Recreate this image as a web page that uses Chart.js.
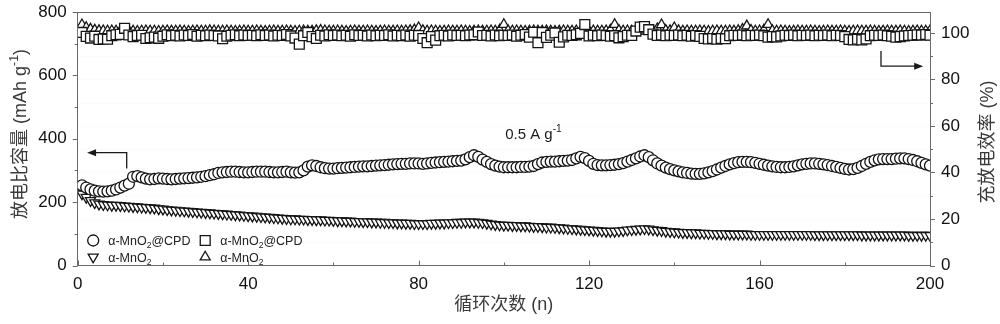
<!DOCTYPE html>
<html>
<head>
<meta charset="utf-8">
<script src="https://cdn.jsdelivr.net/npm/chart.js@4.4.1/dist/chart.umd.min.js"></script>
<style>
  html, body { margin: 0; padding: 0; background: #fff; }
  #wrap { width: 1000px; height: 324px; position: relative; }
</style>
</head>
<body>
<div id="wrap"><canvas id="cycleChart"></canvas></div>
<script>
const LATIN = "'Liberation Sans', 'Noto Sans CJK SC', sans-serif";

// discharge capacity, mAh g-1 (cycles 1..200)
const capCPD = [
  253, 246, 240, 236, 234, 233, 234, 236, 240, 246,
  252, 258, 280, 282, 278, 274, 272, 273, 275, 274,
  273, 272, 273, 274, 275, 276, 277, 278, 280, 282,
  285, 288, 292, 294, 295, 296, 296, 295, 294, 294,
  295, 296, 296, 296, 295, 294, 294, 295, 296, 294,
  293, 294, 300, 312, 316, 314, 310, 307, 306, 306,
  307, 308, 309, 310, 311, 312, 313, 313, 314, 315,
  316, 317, 318, 319, 320, 321, 321, 322, 322, 322,
  321, 322, 324, 325, 326, 327, 328, 329, 330, 331,
  335, 342, 348, 343, 334, 327, 320, 315, 312, 310,
  310, 310, 310, 311, 311, 312, 314, 320, 325, 327,
  328, 328, 329, 330, 331, 333, 338, 343, 339, 330,
  321, 317, 316, 316, 317, 318, 320, 323, 328, 333,
  338, 344, 348, 342, 332, 322, 315, 309, 304, 300,
  297, 294, 292, 290, 289, 289, 291, 294, 298, 303,
  309, 314, 319, 323, 326, 327, 327, 326, 324, 321,
  318, 315, 313, 311, 310, 310, 311, 313, 316, 319,
  321, 322, 322, 321, 319, 317, 314, 311, 308, 305,
  303, 304, 308, 314, 321, 327, 332, 335, 336, 336,
  336, 337, 338, 338, 336, 333, 329, 324, 319, 315
];
const capMnO2 = [
  226, 215, 205, 198, 194, 192, 191, 190, 190, 189,
  188, 187, 186, 185, 184, 183, 182, 181, 179, 178,
  176, 175, 174, 173, 172, 171, 170, 169, 168, 167,
  166, 165, 164, 163, 162, 161, 160, 159, 158, 157,
  156, 155, 154, 153, 152, 151, 150, 149, 148, 147,
  147, 146, 146, 145, 145, 144, 144, 143, 143, 142,
  141, 141, 140, 140, 139, 139, 138, 138, 137, 137,
  136, 136, 135, 135, 134, 134, 133, 133, 132, 132,
  132, 132, 133, 133, 134, 134, 135, 135, 136, 136,
  137, 137, 137, 136, 135, 133, 131, 129, 128, 127,
  127, 126, 126, 125, 125, 124, 123, 123, 122, 121,
  121, 120, 119, 118, 117, 116, 115, 114, 113, 112,
  111, 110, 109, 108, 108, 108, 109, 110, 112, 113,
  114, 115, 116, 115, 113, 111, 110, 108, 107, 106,
  105, 104, 104, 103, 103, 102, 102, 101, 101, 100,
  100, 100, 99, 99, 99, 99, 99, 98, 98, 98,
  98, 98, 98, 98, 98, 98, 98, 98, 98, 98,
  98, 98, 97, 97, 97, 97, 97, 97, 97, 97,
  97, 97, 97, 96, 96, 96, 96, 96, 96, 96,
  96, 96, 96, 96, 95, 95, 95, 95, 95, 95
];

// coulombic efficiency, %
const effCPD = [
  100.2, 98.5, 97.8, 98.6, 97.2, 97.4, 97.3, 98.8, 99.2, 99.4,
  102.0, 99.1, 98.4, 98.9, 99.0, 97.6, 97.9, 98.2, 97.7, 98.6,
  99.2, 98.8, 99.0, 98.7, 99.1, 98.9, 99.3, 98.6, 99.0, 98.8,
  99.1, 98.9, 98.7, 97.5, 98.6, 99.0, 99.2, 98.8, 99.1, 98.9,
  99.0, 98.8, 99.2, 98.9, 99.1, 98.7, 99.0, 98.9, 99.3, 98.7,
  97.8, 95.2, 98.8, 100.2, 98.4, 97.6, 99.0, 98.7, 99.2, 98.9,
  99.1, 98.8, 99.0, 98.6, 99.2, 98.9, 99.0, 98.7, 99.1, 98.8,
  99.0, 98.9, 99.2, 98.7, 99.0, 98.8, 99.1, 98.6, 99.0, 98.9,
  97.6, 95.8, 98.4, 96.9, 98.8, 99.0, 98.7, 99.1, 98.9, 99.0,
  98.8, 99.1, 99.2, 100.4, 98.9, 99.0, 98.7, 99.1, 98.8, 99.0,
  98.9, 99.1, 98.6, 99.0, 99.3, 98.2, 100.3, 95.8, 100.2, 98.1,
  99.0, 100.0, 96.0, 98.3, 99.0, 98.9, 99.2, 99.8, 103.6, 98.7,
  99.0, 98.8, 99.1, 98.9, 98.6, 98.8, 97.9, 98.4, 99.0, 98.9,
  100.8, 102.5, 102.7, 101.4, 99.5, 98.9, 99.1, 98.8, 99.0, 98.9,
  99.1, 98.8, 99.0, 98.6, 98.9, 98.5, 97.6, 97.4, 97.6, 97.3,
  97.6, 97.5, 98.8, 99.0, 98.9, 99.1, 98.8, 99.0, 98.9, 99.1,
  98.8, 98.2, 98.4, 98.3, 98.7, 99.0, 98.9, 99.1, 98.8, 99.0,
  98.9, 99.1, 98.8, 99.0, 98.9, 99.1, 98.8, 99.0, 98.9, 98.4,
  97.2, 97.0, 97.3, 97.0, 97.4, 98.8, 99.0, 98.9, 99.1, 98.8,
  98.6, 98.2, 98.4, 98.7, 98.9, 99.0, 99.2, 99.1, 99.3, 99.0
];
const effMnO2 = [
  103.5, 102.3, 101.6, 101.2, 101.0, 100.9, 100.8, 100.9, 100.8, 100.9,
  100.8, 100.9, 100.8, 100.7, 100.8, 100.9, 100.8, 100.8, 100.7, 100.8,
  100.9, 100.8, 100.8, 100.9, 100.8, 100.7, 100.8, 100.9, 100.8, 100.8,
  101.0, 100.9, 100.8, 100.8, 100.9, 100.8, 100.7, 100.8, 100.9, 100.8,
  100.8, 100.9, 100.8, 100.7, 100.8, 100.9, 100.8, 100.8, 100.9, 100.8,
  100.7, 100.8, 100.9, 100.8, 100.8, 101.0, 101.1, 100.9, 100.8, 100.8,
  100.9, 100.8, 100.7, 100.8, 100.9, 100.8, 100.8, 100.9, 100.8, 100.7,
  100.8, 100.9, 100.8, 100.8, 100.9, 100.8, 100.9, 101.0, 101.3, 102.2,
  101.0, 100.8, 100.9, 100.8, 100.7, 100.8, 100.9, 100.8, 100.8, 100.9,
  100.8, 100.7, 100.8, 100.9, 100.8, 100.8, 100.9, 100.8, 101.2, 103.6,
  101.0, 100.8, 100.9, 100.8, 100.7, 100.8, 100.9, 100.8, 100.8, 100.9,
  100.8, 100.7, 100.8, 100.9, 100.8, 100.8, 100.9, 100.8, 100.7, 100.8,
  100.9, 100.8, 100.8, 100.9, 101.2, 103.6, 101.1, 100.8, 100.9, 100.8,
  100.8, 100.9, 100.8, 100.7, 101.0, 101.8, 103.5, 101.1, 101.0, 102.2,
  101.0, 100.8, 100.9, 100.8, 100.8, 100.9, 100.8, 100.7, 100.8, 100.9,
  100.8, 100.8, 100.9, 100.8, 101.0, 101.5, 103.0, 101.1, 100.8, 100.9,
  101.2, 103.6, 101.0, 100.8, 100.9, 100.8, 100.7, 100.8, 100.9, 100.8,
  100.8, 100.9, 100.8, 100.7, 100.8, 100.9, 100.8, 100.8, 100.9, 100.8,
  100.7, 100.8, 100.9, 100.8, 100.8, 100.9, 100.8, 100.7, 100.8, 100.9,
  100.8, 100.8, 100.9, 100.8, 100.7, 100.8, 100.9, 100.8, 100.8, 100.9
];

const cycles = capCPD.map((_, i) => i + 1);
const xTicks = [0, 40, 80, 120, 160, 200];
const capTicks = [0, 200, 400, 600, 800];
const effTicks = [0, 20, 40, 60, 80, 100];

const toPoints = arr => arr.map((v, i) => ({ x: cycles[i], y: v }));

const markers = {
  circle: { pointStyle: 'circle', radius: 5.5, rotation: 0 },
  square: { pointStyle: 'rect', radius: 7, rotation: 0 },
  down:   { pointStyle: 'triangle', radius: 5.8, rotation: 180 },
  up:     { pointStyle: 'triangle', radius: 5.8, rotation: 0 }
};

function series(label, arr, mk, axis) {
  return {
    label: label,
    data: toPoints(arr),
    yAxisID: axis,
    showLine: false,
    pointStyle: mk.pointStyle,
    pointRadius: mk.radius,
    pointRotation: mk.rotation,
    pointBorderWidth: 1.3,
    pointBorderColor: '#141414',
    pointBackgroundColor: '#ffffff'
  };
}

// vertical axes: keep the plot box fixed, labels may overhang
function fixWidth(w) {
  return s => {
    s.width = w;
    s.paddingTop = 0;
    s.paddingBottom = 0;
  };
}

// draws a run of text pieces; sub/sup pieces are smaller and shifted
function richText(ctx, parts, x, y, size, align) {
  const widths = parts.map(p => {
    ctx.font = (p.sub || p.sup ? size * 0.68 : size) + 'px ' + LATIN;
    return ctx.measureText(p.t).width;
  });
  const total = widths.reduce((a, b) => a + b, 0);
  let cx = align === 'center' ? x - total / 2 : x;
  ctx.textBaseline = 'alphabetic';
  ctx.textAlign = 'left';
  parts.forEach((p, i) => {
    ctx.font = (p.sub || p.sup ? size * 0.68 : size) + 'px ' + LATIN;
    let dy = 0;
    if (p.sub) dy = size * 0.25;
    if (p.sup) dy = -size * 0.42;
    ctx.fillText(p.t, cx, y + dy);
    cx += widths[i];
  });
}

function arrowHead(ctx, x, y, dir) {
  ctx.beginPath();
  ctx.moveTo(x, y);
  ctx.lineTo(x - dir * 9, y - 3.5);
  ctx.lineTo(x - dir * 9, y + 3.5);
  ctx.closePath();
  ctx.fill();
}

const decorations = {
  id: 'decorations',
  beforeDatasetsDraw(chart) {
    const { ctx, chartArea: a, scales } = chart;
    ctx.save();
    // faint dotted guide lines
    ctx.strokeStyle = 'rgba(150,150,150,0.16)';
    ctx.lineWidth = 1;
    ctx.setLineDash([1, 3]);
    for (let v = 10; v <= 100; v += 10) {
      const y = Math.round(scales.y2.getPixelForValue(v)) + 0.5;
      ctx.beginPath();
      ctx.moveTo(a.left, y);
      ctx.lineTo(a.right, y);
      ctx.stroke();
    }
    ctx.restore();
  },
  afterDraw(chart) {
    const { ctx, chartArea: a, scales } = chart;
    const x = scales.x, y = scales.y, y2 = scales.y2;
    ctx.save();

    // frame
    ctx.strokeStyle = '#6a6a6a';
    ctx.lineWidth = 1;
    ctx.beginPath();
    ctx.moveTo(a.left, a.top + 0.5);
    ctx.lineTo(a.right, a.top + 0.5);
    ctx.stroke();

    // tick marks: x inward, y outward, short minors
    ctx.beginPath();
    for (let v = 0; v <= 200; v += 20) {
      const px = Math.round(x.getPixelForValue(v)) + 0.5;
      const len = v % 40 === 0 ? 5 : 3;
      ctx.moveTo(px, a.bottom);
      ctx.lineTo(px, a.bottom - len);
    }
    for (let v = 0; v <= 800; v += 100) {
      const py = Math.round(y.getPixelForValue(v)) + 0.5;
      const len = v % 200 === 0 ? 5 : 3;
      ctx.moveTo(a.left, py);
      ctx.lineTo(a.left - len, py);
    }
    for (let v = 0; v <= 100; v += 10) {
      const py = Math.round(y2.getPixelForValue(v)) + 0.5;
      const len = v % 20 === 0 ? 5 : 3;
      ctx.moveTo(a.right, py);
      ctx.lineTo(a.right + len, py);
    }
    ctx.stroke();

    // axis titles
    ctx.fillStyle = '#3a3a3a';
    ctx.save();
    ctx.translate(19, 134);
    ctx.rotate(-Math.PI / 2);
    richText(ctx, [{ t: '放电比容量 (mAh g' }, { t: '-1', sup: true }, { t: ')' }], 0, 7, 18, 'center');
    ctx.restore();
    ctx.save();
    ctx.translate(986, 142);
    ctx.rotate(-Math.PI / 2);
    richText(ctx, [{ t: '充放电效率 (%)' }], 0, 7, 18, 'center');
    ctx.restore();

    // current density note
    ctx.fillStyle = '#1a1a1a';
    richText(ctx, [{ t: '0.5 A g' }, { t: '-1', sup: true }],
      x.getPixelForValue(100.3), y.getPixelForValue(418) + 5.5, 15, 'left');

    // arrows pointing at each axis
    ctx.strokeStyle = '#1a1a1a';
    ctx.fillStyle = '#1a1a1a';
    ctx.lineWidth = 1.3;
    const lx = x.getPixelForValue(11.5), ly = y.getPixelForValue(356);
    ctx.beginPath();
    ctx.moveTo(lx, y.getPixelForValue(306));
    ctx.lineTo(lx, ly);
    ctx.lineTo(x.getPixelForValue(2.2) + 6, ly);
    ctx.stroke();
    arrowHead(ctx, x.getPixelForValue(2.2), ly, -1);
    const rx = x.getPixelForValue(188.5), ry = y2.getPixelForValue(85.7);
    ctx.beginPath();
    ctx.moveTo(rx, y2.getPixelForValue(92.2));
    ctx.lineTo(rx, ry);
    ctx.lineTo(x.getPixelForValue(198.4) - 6, ry);
    ctx.stroke();
    arrowHead(ctx, x.getPixelForValue(198.4), ry, 1);

    // legend, two columns inside the plot
    const rows = [a.bottom - 25, a.bottom - 8.5];
    const cols = [a.left + 15.5, a.left + 127.5];
    const entries = [
      { mk: markers.circle, col: 0, row: 0, name: '@CPD' },
      { mk: markers.square, col: 1, row: 0, name: '@CPD' },
      { mk: markers.down, col: 0, row: 1, name: '' },
      { mk: markers.up, col: 1, row: 1, name: '' }
    ];
    entries.forEach(e => {
      const mx = cols[e.col], my = rows[e.row];
      ctx.fillStyle = '#ffffff';
      ctx.strokeStyle = '#141414';
      ctx.lineWidth = 1.3;
      Chart.helpers.drawPoint(ctx, {
        pointStyle: e.mk.pointStyle, radius: e.mk.radius,
        rotation: e.mk.rotation, borderWidth: 1.3
      }, mx, my);
      ctx.fillStyle = '#222';
      const parts = [{ t: 'α-MnO' }, { t: '2', sub: true }];
      if (e.name) parts.push({ t: e.name });
      richText(ctx, parts, mx + 15, my + 4.5, 12.5, 'left');
    });

    ctx.restore();
  }
};

new Chart(document.getElementById('cycleChart'), {
  type: 'line',
  data: {
    datasets: [
      series('α-MnO2@CPD', capCPD, markers.circle, 'y'),
      series('α-MnO2@CPD', effCPD, markers.square, 'y2'),
      series('α-MnO2', capMnO2, markers.down, 'y'),
      series('α-MnO2', effMnO2, markers.up, 'y2')
    ]
  },
  options: {
    responsive: true,
    maintainAspectRatio: false,
    animation: false,
    layout: { padding: { top: 12, left: 0, right: 0, bottom: 0 } },
    plugins: {
      legend: { display: false },
      tooltip: { enabled: false }
    },
    scales: {
      x: {
        type: 'linear',
        min: 0,
        max: 200,
        afterFit: s => { s.height = 58.5; s.paddingLeft = 0; s.paddingRight = 0; },
        afterBuildTicks: s => { s.ticks = xTicks.map(v => ({ value: v })); },
        ticks: {
          color: '#111',
          font: { family: LATIN, size: 17 },
          padding: 9,
          maxRotation: 0,
          autoSkip: false
        },
        grid: { drawOnChartArea: false, drawTicks: false },
        border: { color: '#6a6a6a' },
        title: {
          display: true,
          text: '循环次数 (n)',
          color: '#3a3a3a',
          font: { family: LATIN, size: 18 },
          padding: { top: 0, bottom: 8 }
        }
      },
      y: {
        position: 'left',
        min: 0,
        max: 800,
        afterFit: fixWidth(77.7),
        afterBuildTicks: s => { s.ticks = capTicks.map(v => ({ value: v })); },
        ticks: { color: '#111', font: { family: LATIN, size: 17 }, padding: 11 },
        grid: { drawOnChartArea: false, drawTicks: false },
        border: { color: '#6a6a6a' }
      },
      y2: {
        position: 'right',
        min: 0,
        max: 109,
        afterFit: fixWidth(70),
        afterBuildTicks: s => { s.ticks = effTicks.map(v => ({ value: v })); },
        ticks: { color: '#111', font: { family: LATIN, size: 17 }, padding: 11 },
        grid: { drawOnChartArea: false, drawTicks: false },
        border: { color: '#6a6a6a' }
      }
    }
  },
  plugins: [decorations]
});
</script>
</body>
</html>
